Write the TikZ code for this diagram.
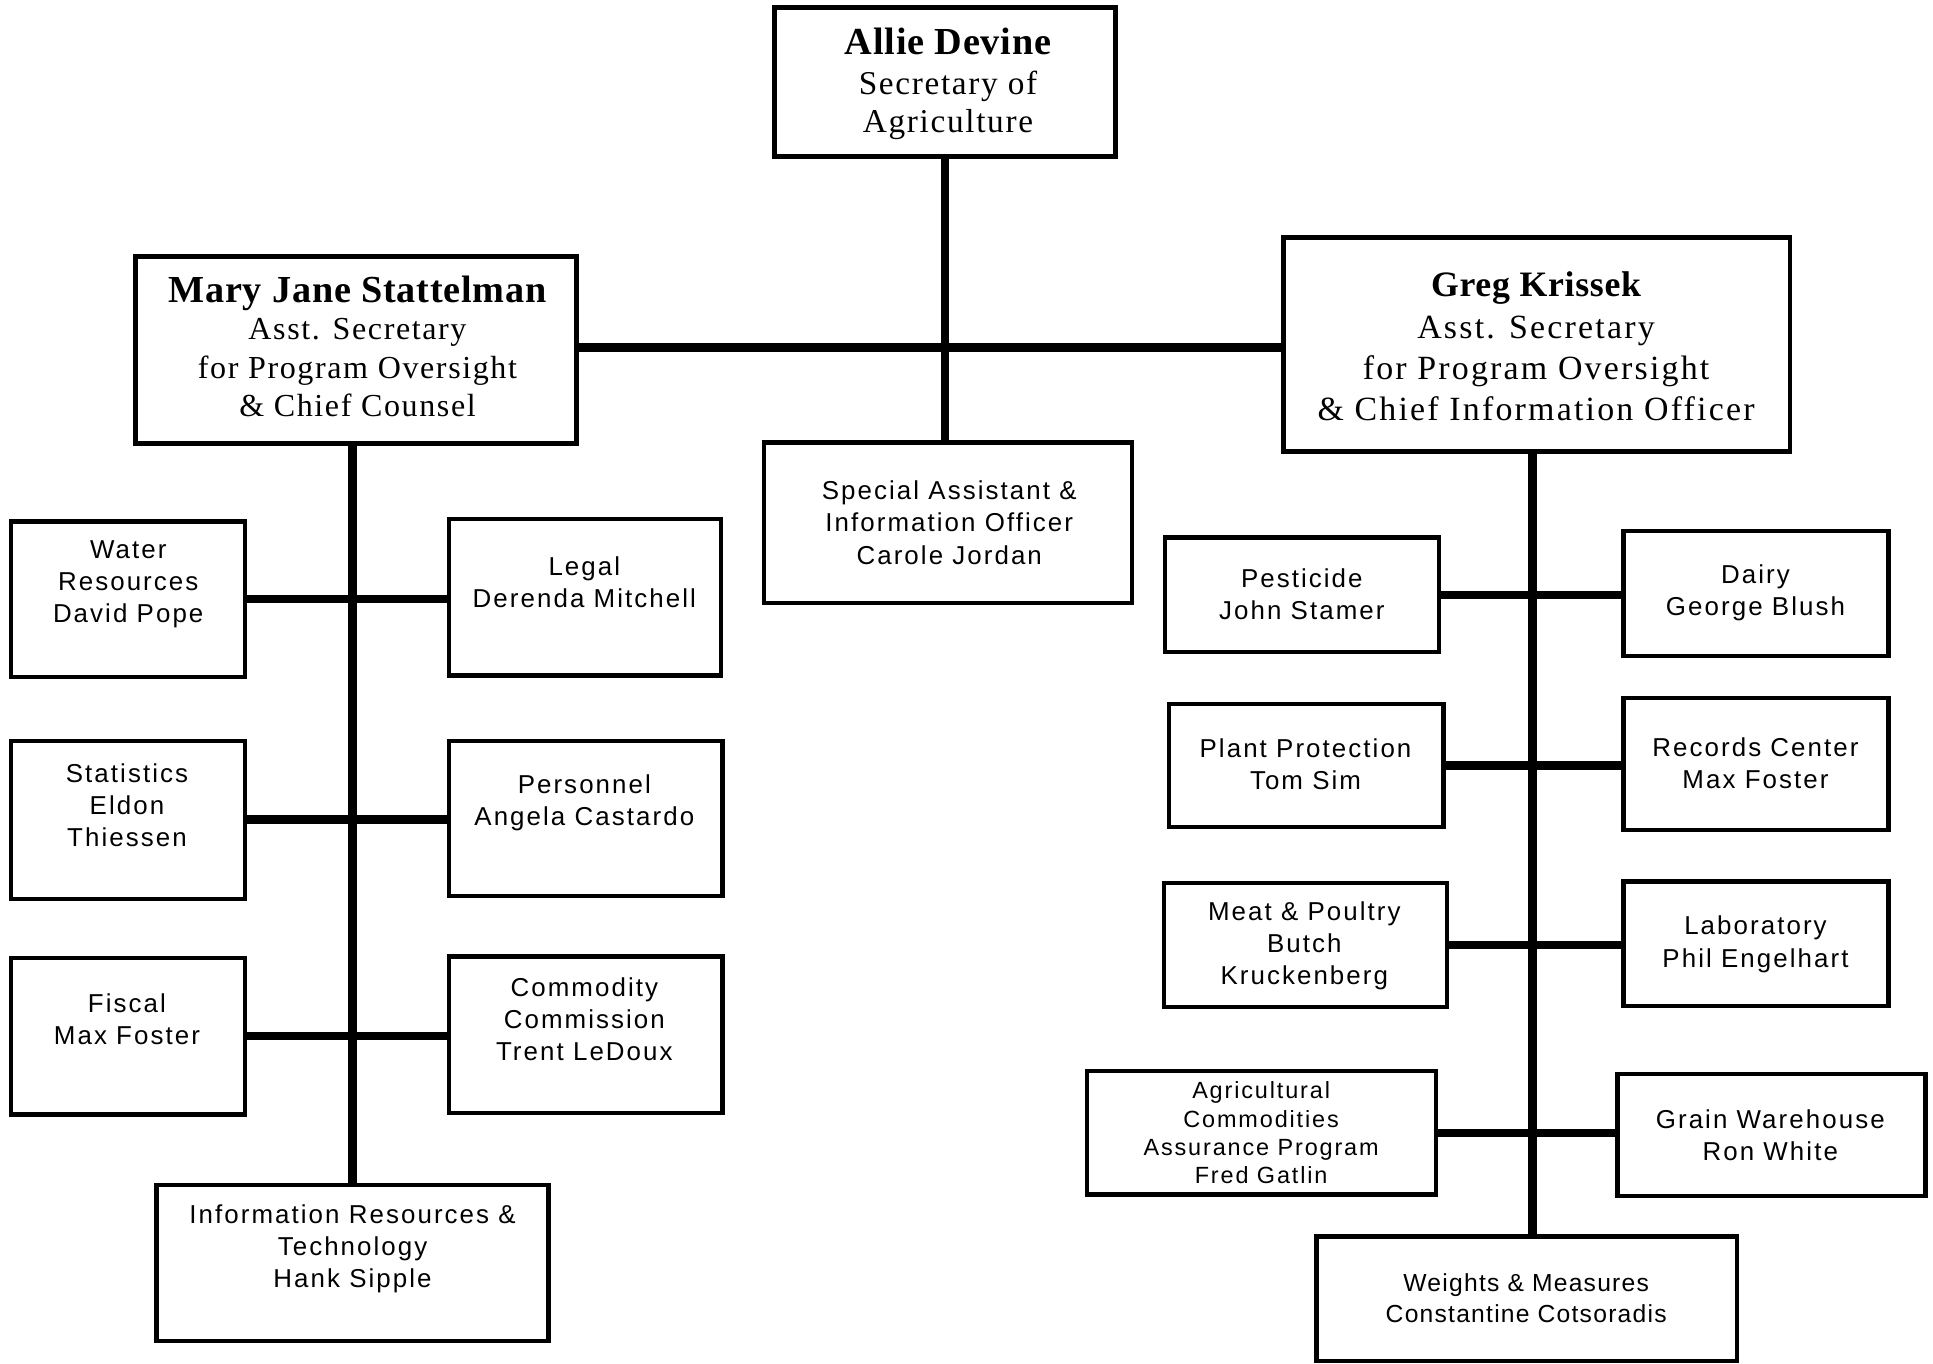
\documentclass[tikz,border=0pt]{standalone}
\usepackage{fontspec}
\usetikzlibrary{fit,calc}
\newfontfamily\serifsp{Liberation Serif}[LetterSpace=5]
\newfontfamily\serifspw{Liberation Serif}[LetterSpace=6.5]
\newfontfamily\serifbd{Liberation Serif}[LetterSpace=2]
\newfontfamily\sanssp{Liberation Sans}[LetterSpace=8]
\newfontfamily\sansnar{Liberation Sans}[LetterSpace=5]
\begin{document}
\begin{tikzpicture}[x=1pt,y=-1pt,
  box/.style={draw, line width=3.5pt, inner sep=0pt},
  bigbox/.style={box, line width=4pt},
  conn/.style={line width=7pt},
  txt/.style={align=center, inner sep=0pt, font=\sanssp\fontsize{21}{26}\selectfont},
  smalltxt/.style={align=center, inner sep=0pt, font=\sanssp\fontsize{19}{23}\selectfont},
  wmtxt/.style={align=center, inner sep=0pt, font=\sansnar\fontsize{20}{25}\selectfont},
  ttl/.style={align=center, inner sep=0pt}]
\useasboundingbox[fill=white] (0,0) rectangle (1568,1106);

% top level boxes
\node[bigbox, fit={(628,6)(905,127)}] (top) {};
\node[ttl, font=\serifsp\fontsize{27}{31}\selectfont] (topt) at (769,68)
  {{\serifbd\bfseries\fontsize{31}{34}\selectfont Allie Devine}\\[2pt]
   Secretary of\\ Agriculture};

\node[bigbox, fit={(110,208)(468,360)}] (mj) {};
\node[ttl, font=\serifsp\fontsize{26}{31}\selectfont] (mjt) at (290,281)
  {{\serifbd\bfseries\fontsize{31}{33}\selectfont Mary Jane Stattelman}\\[-1pt]
   Asst. Secretary\\ for Program Oversight\\ \& Chief Counsel};

\node[bigbox, fit={(1041,193)(1452,366)}] (greg) {};
\node[ttl, font=\serifspw\fontsize{27.5}{33.5}\selectfont] (gregt) at (1246,281)
  {{\serifbd\bfseries\fontsize{29}{34}\selectfont Greg Krissek}\\
   Asst. Secretary\\ for Program Oversight\\ \& Chief Information Officer};

\node[box, fit={(620,359)(918,489)}] (spec) {};
\node[txt] (spect) at (770,424) {Special Assistant \&\\ Information Officer\\ Carole Jordan};

% left side boxes
\node[box, fit={(9,423)(199,549)}] (water) {};
\node[txt] (watert) at (104,474) {Water\\ Resources\\ David Pope};
\node[box, fit={(364,421)(585,548)}] (legal) {};
\node[txt] (legalt) at (474,472) {Legal\\ Derenda Mitchell};
\node[box, fit={(9,601)(199,729)}] (stat) {};
\node[txt] (statt) at (103,653) {Statistics\\ Eldon\\ Thiessen};
\node[box, fit={(364,601)(586,727)}] (pers) {};
\node[txt] (perst) at (474,651) {Personnel\\ Angela Castardo};
\node[box, fit={(9,777)(199,904)}] (fisc) {};
\node[txt] (fisct) at (103,827) {Fiscal\\ Max Foster};
\node[box, fit={(364,776)(586,903)}] (comm) {};
\node[txt] (commt) at (474,827) {Commodity\\ Commission\\ Trent LeDoux};
\node[box, fit={(127,961)(445,1088)}] (info) {};
\node[txt] (infot) at (286,1013) {Information Resources \&\\ Technology\\ Hank Sipple};

% right side boxes
\node[box, fit={(945,436)(1167,529)}] (pest) {};
\node[txt] (pestt) at (1056,482) {Pesticide\\ John Stamer};
\node[box, fit={(1317,431)(1532,532)}] (dairy) {};
\node[txt] (dairyt) at (1424,481) {Dairy\\ George Blush};
\node[box, fit={(948,571)(1171,671)}] (plant) {};
\node[txt] (plantt) at (1059,620) {Plant Protection\\ Tom Sim};
\node[box, fit={(1317,566)(1532,673)}] (rec) {};
\node[txt] (rect) at (1424,619) {Records Center\\ Max Foster};
\node[box, fit={(944,716)(1174,817)}] (meat) {};
\node[txt] (meatt) at (1058,767) {Meat \& Poultry\\ Butch\\ Kruckenberg};
\node[box, fit={(1317,715)(1532,816)}] (lab) {};
\node[txt] (labt) at (1424,766) {Laboratory\\ Phil Engelhart};
\node[box, fit={(882,869)(1165,969)}] (agri) {};
\node[smalltxt] (agrit) at (1023,919) {Agricultural\\ Commodities\\ Assurance Program\\ Fred Gatlin};
\node[box, fit={(1312,871)(1562,970)}] (grain) {};
\node[txt] (graint) at (1436,921) {Grain Warehouse\\ Ron White};
\node[box, fit={(1068,1003)(1409,1104)}] (wm) {};
\node[wmtxt] (wmt) at (1238,1053) {Weights \& Measures\\ Constantine Cotsoradis};

% connectors
\coordinate (hj) at (766,282);
\draw[conn] (mj.east |- hj) -- (greg.west |- hj);
\draw[conn] (top.south) -- (top.south |- spec.north);

\draw[conn] (info.north |- mj.south) -- (info.north);
\draw[conn] (water.east) -- (water.east -| legal.west);
\draw[conn] (stat.east) -- (stat.east -| pers.west);
\draw[conn] (fisc.east) -- (fisc.east -| comm.west);

\coordinate (rt) at (1243,0);
\draw[conn] (rt |- greg.south) -- (rt |- wm.north);
\draw[conn] (pest.east) -- (pest.east -| dairy.west);
\draw[conn] (plant.east) -- (plant.east -| rec.west);
\draw[conn] (meat.east) -- (meat.east -| lab.west);
\draw[conn] (agri.east) -- (agri.east -| grain.west);
\end{tikzpicture}
\end{document}
